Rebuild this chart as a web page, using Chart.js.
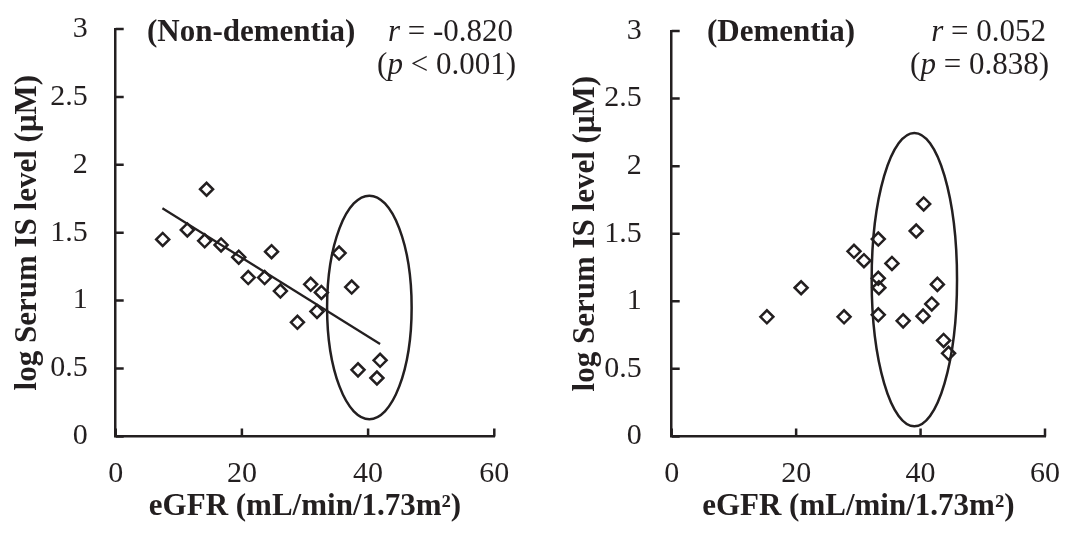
<!DOCTYPE html>
<html>
<head>
<meta charset="utf-8">
<script src="https://cdn.jsdelivr.net/npm/chart.js@4.4.0/dist/chart.umd.min.js"></script>
<style>
  html, body { margin: 0; padding: 0; background: #fff; overflow: hidden; }
  #wrap { position: relative; width: 1072px; height: 535px; overflow: hidden; }
  .panel { position: absolute; top: -17px; }
</style>
</head>
<body>
<div id="wrap">
  <div class="panel" style="left:0"><canvas id="leftChart" width="536" height="552"></canvas></div>
  <div class="panel" style="left:536px"><canvas id="rightChart" width="544" height="552"></canvas></div>
</div>
<script>
// 非痴呆组 (Non-dementia)
const nonDemX = [7.45, 11.35, 14.4, 14.1, 16.7, 19.5, 21.0, 24.7, 23.6, 26.1, 28.8, 30.9, 32.6, 31.9, 35.4, 37.4, 38.4, 41.4, 41.9];
const nonDemY = [1.45, 1.52, 1.82, 1.44, 1.41, 1.32, 1.17, 1.36, 1.17, 1.07, 0.84, 1.12, 1.06, 0.92, 1.35, 1.10, 0.49, 0.43, 0.56];
// 回归线端点
const trendX = [7.4, 41.9];
const trendY = [1.68, 0.68];

// 痴呆组 (Dementia)
const demX = [15.3, 20.8, 27.7, 29.3, 30.9, 33.2, 33.2, 33.3, 33.2, 35.4, 37.2, 39.3, 40.5, 40.4, 41.8, 42.7, 43.7, 44.5];
const demY = [0.885, 1.10, 0.885, 1.37, 1.30, 1.46, 1.17, 1.10, 0.90, 1.28, 0.855, 1.52, 1.72, 0.89, 0.98, 1.125, 0.71, 0.615];

// 椭圆: 中心 [x, y], 半径 [x, y]（数据单位）
const nonDemEllipse = { cx: 40.2, cy: 0.95, rx: 6.7, ry: 0.823 };
const demEllipse = { cx: 39.0, cy: 1.16, rx: 6.86, ry: 1.085 };

const xTicks = [0, 20, 40, 60];
const yTicks = [0, 0.5, 1, 1.5, 2, 2.5, 3];

const INK = '#231f20';
const SERIF = "'Liberation Serif', 'Times New Roman', serif";
const TOP_SHIFT = 17; // 画布上移量

function toPoints(xs, ys) {
    return xs.map((x, i) => ({ x: x, y: ys[i] }));
}

// 椭圆插件：用坐标轴换算
const ellipsePlugin = {
    id: 'ellipse',
    afterDatasetsDraw(chart, args, opts) {
        const e = opts.shape;
        if (!e) return;
        const xs = chart.scales.x, ys = chart.scales.y;
        const cx = xs.getPixelForValue(e.cx);
        const cy = ys.getPixelForValue(e.cy);
        const rx = Math.abs(xs.getPixelForValue(e.cx + e.rx) - cx);
        const ry = Math.abs(ys.getPixelForValue(e.cy + e.ry) - cy);
        const ctx = chart.ctx;
        ctx.save();
        ctx.strokeStyle = INK;
        ctx.lineWidth = 2.5;
        ctx.beginPath();
        ctx.ellipse(cx, cy, rx, ry, 0, 0, Math.PI * 2);
        ctx.stroke();
        ctx.restore();
    }
};

// 刻度线朝内
const innerTicksPlugin = {
    id: 'innerTicks',
    afterDraw(chart) {
        const ctx = chart.ctx;
        const xs = chart.scales.x, ys = chart.scales.y;
        const area = chart.chartArea;
        const len = 8;
        ctx.save();
        ctx.strokeStyle = INK;
        ctx.lineWidth = 2.5;
        ctx.beginPath();
        ys.ticks.forEach(t => {
            const py = ys.getPixelForValue(t.value);
            ctx.moveTo(area.left, py);
            ctx.lineTo(area.left + len, py);
        });
        xs.ticks.forEach(t => {
            const px = xs.getPixelForValue(t.value);
            ctx.moveTo(px, area.bottom);
            ctx.lineTo(px, area.bottom - len);
        });
        ctx.stroke();
        ctx.restore();
    }
};

// 文字标注插件（组名、r 和 p 值）
function drawRuns(ctx, runs, xRight, y) {
    let total = 0;
    runs.forEach(r => { ctx.font = r.font; total += ctx.measureText(r.text).width; });
    let x = xRight - total;
    runs.forEach(r => {
        ctx.font = r.font;
        ctx.fillText(r.text, x, y);
        x += ctx.measureText(r.text).width;
    });
}

const labelPlugin = {
    id: 'labels',
    afterDraw(chart, args, opts) {
        const ctx = chart.ctx;
        const reg = '31px ' + SERIF;
        const ital = 'italic 31px ' + SERIF;
        const bold = 'bold 31px ' + SERIF;
        ctx.save();
        ctx.fillStyle = INK;
        ctx.textBaseline = 'middle';
        ctx.textAlign = 'left';
        ctx.font = bold;
        ctx.fillText(opts.group, opts.groupX, 33 + TOP_SHIFT);
        drawRuns(ctx, [{ text: 'r', font: ital }, { text: ' = ' + opts.r, font: reg }], opts.statX, 33 + TOP_SHIFT);
        drawRuns(ctx, [{ text: '(', font: reg }, { text: 'p', font: ital }, { text: ' ' + opts.p + ')', font: reg }], opts.statX + 3, 66 + TOP_SHIFT);
        ctx.restore();
    }
};

function makeChart(id, cfg) {
    const ctx = document.getElementById(id).getContext('2d');
    return new Chart(ctx, {
        type: 'scatter',
        data: {
            datasets: cfg.datasets
        },
        options: {
            responsive: false,
            devicePixelRatio: 1,
            animation: false,
            events: [],
            layout: {
                padding: { left: 0, top: 11, right: cfg.padRight, bottom: 0 }
            },
            plugins: {
                legend: { display: false },
                tooltip: { enabled: false },
                ellipse: { shape: cfg.ellipse },
                labels: cfg.labels
            },
            scales: {
                x: {
                    type: 'linear',
                    min: 0,
                    max: 60,
                    afterBuildTicks: axis => { axis.ticks = xTicks.map(v => ({ value: v })); },
                    afterFit: axis => { axis.height = 98.6; },
                    border: { display: true, color: INK, width: 2.5 },
                    grid: { display: false, drawTicks: false },
                    ticks: {
                        padding: 20,
                        color: INK,
                        font: { family: SERIF, size: 30 },
                        maxRotation: 0,
                        callback: v => String(v)
                    },
                    title: {
                        display: true,
                        text: 'eGFR (mL/min/1.73m\u00b2)',
                        color: INK,
                        padding: { top: 0, bottom: 9 },
                        font: { family: SERIF, size: 31, weight: 'bold' }
                    }
                },
                y: {
                    type: 'linear',
                    min: 0,
                    max: 3,
                    afterBuildTicks: axis => { axis.ticks = yTicks.map(v => ({ value: v })); },
                    afterFit: axis => { axis.width = cfg.yWidth; },
                    border: { display: true, color: INK, width: 2.5 },
                    grid: { display: false, drawTicks: false },
                    ticks: {
                        padding: cfg.yPad,
                        color: INK,
                        font: { family: SERIF, size: 30 },
                        callback: v => String(v)
                    },
                    title: {
                        display: true,
                        text: 'log Serum IS level (\u03bcM)',
                        color: INK,
                        padding: { top: cfg.yTitlePad, bottom: 0 },
                        font: { family: SERIF, size: 31, weight: 'bold' }
                    }
                }
            }
        },
        plugins: [ellipsePlugin, innerTicksPlugin, labelPlugin]
    });
}

const pointStyle = {
    type: 'scatter',
    pointStyle: 'rectRot',
    pointRadius: 6.5,
    borderWidth: 2.5,
    borderColor: INK,
    backgroundColor: 'rgba(0,0,0,0)'
};

makeChart('leftChart', {
    padRight: 41.7,
    yWidth: 115.7,
    yPad: 28,
    yTitlePad: 9,
    ellipse: nonDemEllipse,
    labels: { group: '(Non-dementia)', groupX: 147, r: '-0.820', p: '< 0.001', statX: 513 },
    datasets: [
        Object.assign({ label: 'Non-dementia', data: toPoints(nonDemX, nonDemY) }, pointStyle),
        {
            type: 'line',
            label: 'trend',
            data: toPoints(trendX, trendY),
            borderColor: INK,
            borderWidth: 2.2,
            pointRadius: 0,
            fill: false
        }
    ]
});

makeChart('rightChart', {
    padRight: 27,
    yWidth: 135.7,
    yPad: 30,
    yTitlePad: 31,
    ellipse: demEllipse,
    labels: { group: '(Dementia)', groupX: 171, r: '0.052', p: '= 0.838', statX: 510 },
    datasets: [
        Object.assign({ label: 'Dementia', data: toPoints(demX, demY) }, pointStyle)
    ]
});
</script>
</body>
</html>
